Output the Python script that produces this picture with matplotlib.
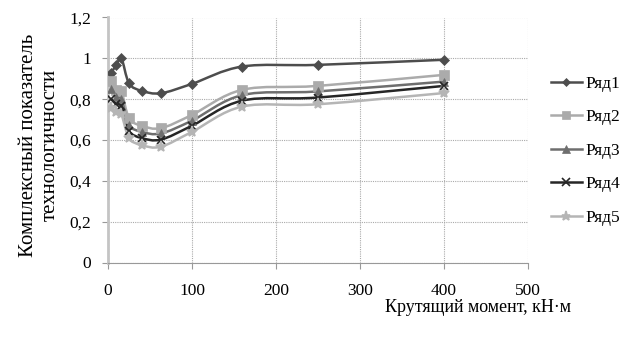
import numpy as np
import matplotlib
matplotlib.use("Agg")
import matplotlib.pyplot as plt
from matplotlib.path import Path
from matplotlib.patches import PathPatch
from matplotlib.lines import Line2D

plt.rcParams['font.family'] = ['Liberation Serif', 'DejaVu Serif']

# torque values, kN*m
torque = [4, 10, 16, 25, 40, 63, 100, 160, 250, 400]
row1 = [0.93, 0.968, 1.0, 0.878, 0.841, 0.829, 0.875, 0.96, 0.968, 0.993]
row2 = [0.89, 0.845, 0.84, 0.707, 0.67, 0.658, 0.723, 0.846, 0.865, 0.919]
row3 = [0.85, 0.81, 0.80, 0.675, 0.64, 0.632, 0.695, 0.82, 0.838, 0.886]
row4 = [0.80, 0.775, 0.765, 0.645, 0.61, 0.602, 0.67, 0.793, 0.808, 0.865]
row5 = [0.755, 0.735, 0.725, 0.61, 0.575, 0.567, 0.64, 0.764, 0.775, 0.83]

names = ['Ряд1', 'Ряд2', 'Ряд3', 'Ряд4', 'Ряд5']
rows = [row1, row2, row3, row4, row5]
colors = ['#4d4d4d', '#ababab', '#6e6e6e', '#262626', '#b5b5b5']
markers = ['D', 's', '^', 'x', '*']
msizes = [5, 7, 6, 6, 8]
widths = [1.8, 1.8, 1.8, 1.8, 1.8]


def smooth_path(x, y):
    # excel-like smoothed line (catmull-rom bezier)
    p = np.column_stack([x, y]).astype(float)
    verts = [p[0]]
    codes = [Path.MOVETO]
    n = len(p)
    for i in range(n - 1):
        p0 = p[i - 1] if i > 0 else p[i]
        p3 = p[i + 2] if i + 2 < n else p[i + 1]
        c1 = p[i] + (p[i + 1] - p0) / 6.0
        c2 = p[i + 1] - (p3 - p[i]) / 6.0
        verts += [c1, c2, p[i + 1]]
        codes += [Path.CURVE4] * 3
    return Path(verts, codes)


fig = plt.figure(figsize=(6.43, 3.48), dpi=100)
ax = fig.add_axes([108 / 643, 1 - 262.5 / 348, 420 / 643, 245 / 348])

for name, vals, c, m, ms, lw in zip(names, rows, colors, markers, msizes, widths):
    ax.add_patch(PathPatch(smooth_path(torque, vals), fill=False,
                           edgecolor=c, lw=lw, zorder=3))
    ax.plot(torque, vals, ls='none', marker=m, color=c, ms=ms,
            markeredgewidth=1.2 if m in ('x', '*') else 0.5, zorder=4)

ax.set_xlim(0, 500)
ax.set_ylim(0, 1.2)
ax.set_xticks(range(0, 501, 100))
ax.set_yticks(np.arange(0, 1.21, 0.2))
ax.set_yticklabels(['0', '0,2', '0,4', '0,6', '0,8', '1', '1,2'])
ax.grid(True, color='#aaaaaa', ls=(0, (1, 1)), lw=0.8)
ax.set_axisbelow(True)
for s in ['top', 'right']:
    ax.spines[s].set_visible(False)
ax.spines['left'].set_color('#c4c4c4')
ax.spines['left'].set_linewidth(2)
ax.spines['bottom'].set_color('#999999')
ax.spines['bottom'].set_linestyle((0, (1, 1)))
ax.tick_params(direction='out', length=4, color='#999999', labelsize=12.5,
               pad=8)
ax.tick_params(axis='x', pad=11)

fig.text(478 / 643, 1 - 308 / 348, 'Крутящий момент, кН·м', fontsize=13,
         ha='center', va='center')
fig.text(39 / 643, 1 - 145 / 348, 'Комплексный показатель\nтехнологичности',
         fontsize=15, rotation=90, ha='center', va='center',
         multialignment='center', linespacing=1.2)

handles = [Line2D([], [], color=c, lw=lw, marker=m, ms=ms * 0.85,
                  markeredgewidth=1.2 if m in ('x', '*') else 0.5)
           for c, m, ms, lw in zip(colors, markers, msizes, widths)]
fig.legend(handles, names, loc='upper left', bbox_to_anchor=(535 / 643, 1 - 60 / 348),
           frameon=False, fontsize=12.5, handlelength=1.8, handletextpad=0.2,
           labelspacing=1.0)

fig.savefig('out.png', dpi=100)
